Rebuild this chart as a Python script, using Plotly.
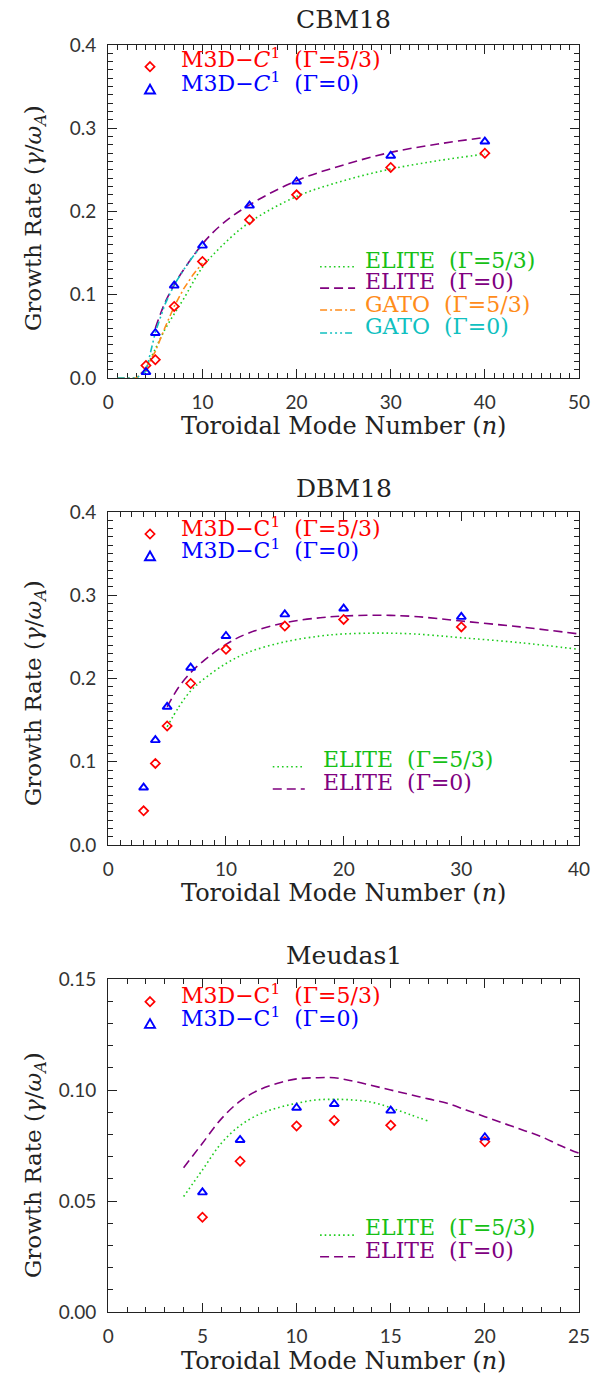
import plotly.graph_objects as go

# ---------------- data ----------------
# CBM18
cbm_n_m3d = [4, 5, 7, 10, 15, 20, 30, 40]
cbm_m3d_g53 = [0.015, 0.022, 0.086, 0.140, 0.190, 0.220, 0.253, 0.270]
cbm_m3d_g0 = [0.007, 0.054, 0.111, 0.159, 0.207, 0.236, 0.267, 0.284]
cbm_elite_n53 = [4, 5, 6, 7, 8, 10, 12, 15, 20, 25, 30, 35, 40]
cbm_elite_g53 = [0.012, 0.035, 0.058, 0.077, 0.095, 0.133, 0.158, 0.187, 0.218, 0.237, 0.251, 0.261, 0.269]
cbm_elite_n0 = [5, 6, 7, 8, 10, 12, 15, 20, 25, 30, 35, 40]
cbm_elite_g0 = [0.060, 0.090, 0.112, 0.130, 0.161, 0.184, 0.208, 0.237, 0.256, 0.271, 0.281, 0.289]
cbm_gato_n = [1, 2, 3, 4, 5, 6, 7, 8, 9, 10]
cbm_gato_g53 = [0.0, 0.0, 0.0, 0.012, 0.032, 0.060, 0.086, 0.107, 0.124, 0.138]
cbm_gato_g0 = [0.0, 0.0, 0.0, 0.008, 0.055, 0.088, 0.112, 0.130, 0.146, 0.160]

# DBM18
dbm_n_m3d = [3, 4, 5, 7, 10, 15, 20, 30]
dbm_m3d_g53 = [0.041, 0.098, 0.143, 0.194, 0.235, 0.263, 0.271, 0.262]
dbm_m3d_g0 = [0.069, 0.126, 0.166, 0.213, 0.251, 0.277, 0.284, 0.274]
dbm_elite_n = [5, 6, 7, 8, 10, 12, 15, 18, 20, 23, 26, 30, 35, 40]
dbm_elite_g53 = [0.142, 0.166, 0.185, 0.198, 0.218, 0.232, 0.244, 0.251, 0.2535, 0.2545, 0.2535, 0.249, 0.243, 0.235]
dbm_elite_g0 = [0.166, 0.190, 0.207, 0.220, 0.241, 0.255, 0.267, 0.273, 0.275, 0.276, 0.2745, 0.269, 0.262, 0.2535]

# Meudas1
meu_n_m3d = [5, 7, 10, 12, 15, 20]
meu_m3d_g53 = [0.0427, 0.0679, 0.0838, 0.0863, 0.0841, 0.0767]
meu_m3d_g0 = [0.0539, 0.0775, 0.0920, 0.0937, 0.0907, 0.0787]
meu_elite_n53 = [4, 5, 6, 7, 8, 9, 10, 11, 12, 13, 14, 15, 16, 17]
meu_elite_g53 = [0.052, 0.064, 0.076, 0.084, 0.089, 0.092, 0.094, 0.0955, 0.0958, 0.0955, 0.0945, 0.092, 0.089, 0.086]
meu_elite_n0 = [4, 5, 6, 7, 8, 9, 10, 11, 12, 13, 14, 15, 16, 17, 18, 19, 20, 21, 22, 23, 24, 25]
meu_elite_g0 = [0.065, 0.076, 0.087, 0.095, 0.100, 0.103, 0.105, 0.1055, 0.1055, 0.104, 0.102, 0.100, 0.098,
                0.096, 0.094, 0.091, 0.088, 0.085, 0.082, 0.079, 0.075, 0.0715]

titles = ["CBM18", "DBM18", "Meudas1"]
x_ranges = [[0, 50], [0, 40], [0, 25]]
x_dticks = [10, 10, 5]
y_ranges = [[0, 0.4], [0, 0.4], [0, 0.15]]
y_dticks = [0.1, 0.1, 0.05]
y_minor = [0.01, 0.01, 0.01]
y_formats = [".1f", ".1f", ".2f"]

# ---------------- style ----------------
RED = "#ff0000"
BLUE = "#0000ff"
GREEN = "#1fcc1f"
GREEN_TXT = "#16c016"
PURPLE = "#80007f"
ORANGE = "#ff8c1a"
CYAN = "#10c0c0"
AXC = "#222222"
SERIF = "DejaVu Serif"
SANS = "Lato"

W, H = 595, 1378
XL, XR = 108.3, 579.0
boxes = [(45, 378), (512, 845), (979, 1312)]  # top, bottom (px)

DOT = "1.6px,3px"
DASH = "9px,5px"
DASHDOT = "7px,3px,2px,3px"
DASH3DOT = "7px,3px,2px,3px,2px,3px,2px,3px"


def sfx(i):
    return "" if i == 1 else str(i)


fig = go.Figure()


def add_line(i, x, y, color, dash, shape="spline"):
    fig.add_trace(go.Scatter(x=x, y=y, mode="lines", xaxis=f"x{sfx(i)}", yaxis=f"y{sfx(i)}",
                             line=dict(color=color, width=1.6, dash=dash, shape=shape),
                             showlegend=False, hoverinfo="skip"))


def add_markers(i, x, y, sym):
    if sym == "diamond":
        m = dict(symbol="diamond-open", size=7, color=RED, line=dict(width=1.7, color=RED))
    else:
        m = dict(symbol="triangle-up-open", size=8, color=BLUE, line=dict(width=1.9, color=BLUE))
    fig.add_trace(go.Scatter(x=x, y=y, mode="markers", xaxis=f"x{sfx(i)}", yaxis=f"y{sfx(i)}",
                             marker=m, showlegend=False, hoverinfo="skip", cliponaxis=False))


# panel 1
add_line(1, cbm_elite_n53, cbm_elite_g53, GREEN, DOT)
add_line(1, cbm_elite_n0, cbm_elite_g0, PURPLE, DASH)
add_line(1, cbm_gato_n, cbm_gato_g53, ORANGE, DASHDOT, "linear")
add_line(1, cbm_gato_n, cbm_gato_g0, CYAN, DASH3DOT, "linear")
add_markers(1, cbm_n_m3d, cbm_m3d_g53, "diamond")
add_markers(1, cbm_n_m3d, cbm_m3d_g0, "triangle")
# panel 2
add_line(2, dbm_elite_n, dbm_elite_g53, GREEN, DOT)
add_line(2, dbm_elite_n, dbm_elite_g0, PURPLE, DASH)
add_markers(2, dbm_n_m3d, dbm_m3d_g53, "diamond")
add_markers(2, dbm_n_m3d, dbm_m3d_g0, "triangle")
# panel 3
add_line(3, meu_elite_n53, meu_elite_g53, GREEN, DOT)
add_line(3, meu_elite_n0, meu_elite_g0, PURPLE, DASH)
add_markers(3, meu_n_m3d, meu_m3d_g53, "diamond")
add_markers(3, meu_n_m3d, meu_m3d_g0, "triangle")

layout = dict(width=W, height=H, margin=dict(l=0, r=0, t=0, b=0, autoexpand=False),
              paper_bgcolor="white", plot_bgcolor="white", showlegend=False)

for k in range(3):
    i = k + 1
    s = sfx(i)
    top, bot = boxes[k]
    ax_common = dict(showline=True, linecolor=AXC, linewidth=1.3, mirror="allticks",
                     ticks="inside", tickcolor=AXC, tickwidth=1.1, ticklen=9,
                     showgrid=False, zeroline=False, automargin=False,
                     tickfont=dict(family=SANS, size=19, color="#333"))
    layout[f"xaxis{s}"] = dict(ax_common, domain=[XL / W, XR / W], range=x_ranges[k],
                               dtick=x_dticks[k], tick0=0, anchor=f"y{s}",
                               ticklabelstandoff=7,
                               layer="below traces" if k == 0 else "above traces",
                               minor=dict(dtick=1, ticklen=5, ticks="inside", tickcolor=AXC, tickwidth=1))
    layout[f"yaxis{s}"] = dict(ax_common, domain=[1 - bot / H, 1 - top / H], range=y_ranges[k],
                               dtick=y_dticks[k], tick0=0, anchor=f"x{s}", tickformat=y_formats[k],
                               ticklabelstandoff=7,
                               minor=dict(dtick=y_minor[k], ticklen=5, ticks="inside", tickcolor=AXC, tickwidth=1))

annotations = []
shapes = []

title_y = [20, 488, 955]
xtitle_y = [426, 893, 1361]
ytitle_y = [218, 693, 1165]
for k in range(3):
    annotations.append(dict(text=titles[k], x=(XL + XR) / 2 / W, y=1 - title_y[k] / H,
                            xref="paper", yref="paper", showarrow=False,
                            xanchor="center", yanchor="middle",
                            font=dict(family=SERIF, size=25, color="#222")))
    annotations.append(dict(text="Toroidal Mode Number (<i>n</i>)", x=(XL + XR) / 2 / W,
                            y=1 - xtitle_y[k] / H, xref="paper", yref="paper", showarrow=False,
                            xanchor="center", yanchor="middle",
                            font=dict(family=SERIF, size=24, color="#222")))
    annotations.append(dict(text="Growth Rate (<i>γ</i>/<i>ω</i><sub><i>A</i></sub>)", x=35 / W,
                            y=1 - ytitle_y[k] / H, xref="paper", yref="paper", showarrow=False,
                            textangle=-90, xanchor="center", yanchor="middle",
                            font=dict(family=SERIF, size=23, color="#222")))

# ----- legends (text + sample symbols), positions in axis-domain fractions -----
SP = "\u00a0"
lab_m53 = [f"M3D−<i>C</i><sup>1</sup> {SP}(Γ=5/3)", f"M3D−C<sup>1</sup> {SP}(Γ=5/3)",
           f"M3D−C<sup>1</sup> {SP}(Γ=5/3)"]
lab_m0 = [f"M3D−<i>C</i><sup>1</sup> {SP}(Γ=0)", f"M3D−C<sup>1</sup> {SP}(Γ=0)",
          f"M3D−C<sup>1</sup> {SP}(Γ=0)"]
mk_pos = [(0.0886, 0.935, 0.865, 0.150, 0.961, 0.890),
          (0.0886, 0.934, 0.866, 0.150, 0.956, 0.888),
          (0.0886, 0.932, 0.864, 0.150, 0.955, 0.887)]

line_items = [
    [(f"ELITE {SP}(Γ=5/3)", GREEN, GREEN_TXT, DOT, 0.334, 0.354),
     (f"ELITE {SP}(Γ=0)", PURPLE, PURPLE, DASH, 0.270, 0.291),
     (f"GATO {SP}(Γ=5/3)", ORANGE, ORANGE, DASHDOT, 0.204, 0.222),
     (f"GATO {SP}(Γ=0)", CYAN, CYAN, DASH3DOT, 0.135, 0.156)],
    [(f"ELITE {SP}(Γ=5/3)", GREEN, GREEN_TXT, DOT, 0.235, 0.258),
     (f"ELITE {SP}(Γ=0)", PURPLE, PURPLE, DASH, 0.168, 0.187)],
    [(f"ELITE {SP}(Γ=5/3)", GREEN, GREEN_TXT, DOT, 0.231, 0.253),
     (f"ELITE {SP}(Γ=0)", PURPLE, PURPLE, DASH, 0.166, 0.186)],
]
line_x = [(0.4499, 0.5243, 0.5406), (0.3494, 0.4174, 0.4512), (0.4499, 0.5243, 0.5406)]

DIAMOND_PATH = "M0,4.6 L4.6,0 L0,-4.6 L-4.6,0 Z"
TRI_PATH = "M-5,-3.6 L5,-3.6 L0,5.2 Z"

for k in range(3):
    i = k + 1
    s = sfx(i)
    xr, yr = f"x{s} domain", f"y{s} domain"
    mx, yd, yt, tx, ty53, ty0 = mk_pos[k]
    shapes.append(dict(type="path", xref=xr, yref=yr, xsizemode="pixel", ysizemode="pixel",
                       xanchor=mx, yanchor=yd, path=DIAMOND_PATH, line=dict(color=RED, width=1.7)))
    shapes.append(dict(type="path", xref=xr, yref=yr, xsizemode="pixel", ysizemode="pixel",
                       xanchor=mx, yanchor=yt, path=TRI_PATH, line=dict(color=BLUE, width=1.9)))
    annotations.append(dict(text=lab_m53[k], x=tx, y=ty53, xref=xr, yref=yr, showarrow=False,
                            xanchor="left", yanchor="middle",
                            font=dict(family=SERIF, size=22, color=RED)))
    annotations.append(dict(text=lab_m0[k], x=tx, y=ty0, xref=xr, yref=yr, showarrow=False,
                            xanchor="left", yanchor="middle",
                            font=dict(family=SERIF, size=22, color=BLUE)))
    lx0, lx1, ltx = line_x[k]
    for (txt, lc, tc, dash, ly, lty) in line_items[k]:
        shapes.append(dict(type="line", xref=xr, yref=yr, x0=lx0, x1=lx1, y0=ly, y1=ly,
                           line=dict(color=lc, width=1.6, dash=dash)))
        annotations.append(dict(text=txt, x=ltx, y=lty, xref=xr, yref=yr, showarrow=False,
                                xanchor="left", yanchor="middle",
                                font=dict(family=SERIF, size=22, color=tc)))

layout["annotations"] = annotations
layout["shapes"] = shapes
fig.update_layout(**layout)
fig.write_html("out.html")
